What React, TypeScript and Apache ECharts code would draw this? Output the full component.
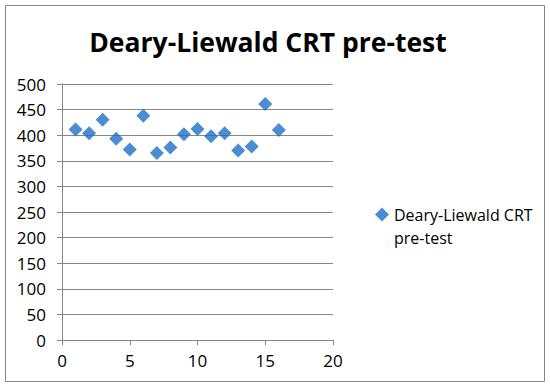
import React, { useEffect, useRef } from "react";
import * as echarts from "echarts";

const titleText = "Deary-Liewald CRT pre-test";
const seriesName = "Deary-Liewald CRT\npre-test";
const xValues = [1, 2, 3, 4, 5, 6, 7, 8, 9, 10, 11, 12, 13, 14, 15, 16];
const yValues = [411, 404, 430, 393, 372, 438, 365, 376, 402, 412, 398, 404, 370, 378, 461, 410];

export default function App() {
  const ref = useRef<HTMLDivElement>(null);
  useEffect(() => {
    if (!ref.current) return;
    const chart = echarts.init(ref.current, undefined, { renderer: "svg" });
    const font = "'Open Sans', sans-serif";
    chart.setOption({
      animation: false,
      backgroundColor: "#ffffff",
      title: {
        text: titleText,
        left: 263,
        textAlign: "center",
        top: 23,
        textStyle: { fontFamily: font, fontWeight: "bold", fontSize: 26.5, color: "#000" },
      },
      graphic: [
        {
          type: "rect",
          shape: { x: 5.5, y: 5.5, width: 539, height: 376 },
          style: { fill: "none", stroke: "#868686", lineWidth: 1 },
          silent: true,
        },
      ],
      legend: {
        left: 370,
        top: 175,
        orient: "vertical",
        itemWidth: 14,
        itemHeight: 14,
        itemGap: 4,
        icon: "diamond",
        formatter: (name: string) => "\n" + name,
        textStyle: {
          fontFamily: font,
          fontSize: 16,
          color: "#000",
          lineHeight: 23,
        },
        data: [seriesName],
      },
      grid: { left: 62, right: 217, top: 84, bottom: 51 },
      xAxis: {
        type: "value",
        min: 0,
        max: 20,
        interval: 5,
        axisLine: { show: true, lineStyle: { color: "#868686" } },
        axisTick: { show: true, length: 5, inside: false, lineStyle: { color: "#868686" } },
        axisLabel: { fontFamily: font, fontSize: 17, color: "#000", margin: 12 },
        splitLine: { show: false },
      },
      yAxis: {
        type: "value",
        min: 0,
        max: 500,
        interval: 50,
        axisLine: { show: true, lineStyle: { color: "#868686" } },
        axisTick: { show: true, length: 5, lineStyle: { color: "#868686" } },
        axisLabel: { fontFamily: font, fontSize: 17, color: "#000", margin: 16 },
        splitLine: { show: true, lineStyle: { color: "#868686" } },
      },
      series: [
        {
          name: seriesName,
          type: "scatter",
          symbol: "diamond",
          symbolSize: 14,
          itemStyle: { color: "#1F6FC5" },
          data: xValues.map((x, i) => [x, yValues[i]]),
        },
      ],
    });
    return () => chart.dispose();
  }, []);
  return (
    <div
      ref={ref}
      style={{ position: "fixed", left: 0, top: 0, width: 550, height: 391 }}
    />
  );
}
